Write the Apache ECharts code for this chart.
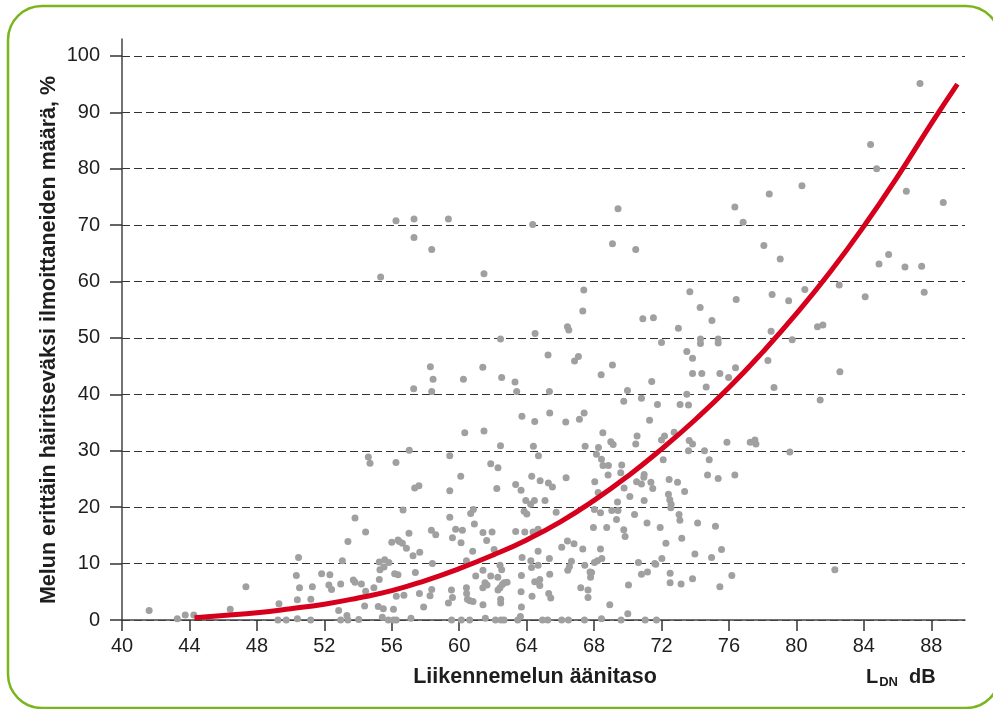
<!DOCTYPE html>
<html>
<head>
<meta charset="utf-8">
<script src="https://cdn.jsdelivr.net/npm/echarts@6/dist/echarts.min.js"></script>
<style>
  html, body { margin: 0; padding: 0; background: #ffffff; }
  #chart { width: 993px; height: 709px; }
</style>
</head>
<body>
<div id="chart"></div>
<script>
// Axis tick values
const levelTicks = [40, 44, 48, 52, 56, 60, 64, 68, 72, 76, 80, 84, 88];
const shareTicks = [0, 10, 20, 30, 40, 50, 60, 70, 80, 90, 100];

// Survey results: [L_DN dB, % highly annoyed]
const surveysHigh = [
  [56.25, 70.8], [57.32, 71.1], [57.32, 67.8], [58.37, 65.7], [59.36, 71.1], [64.36, 70.1],
  [69.42, 72.9], [69.09, 66.7], [70.47, 65.7], [76.35, 73.2], [76.84, 70.5], [78.39, 75.5],
  [80.33, 77.0], [78.07, 66.4], [84.4, 84.3], [84.76, 80.0], [86.52, 76.0], [87.33, 95.1],
  [88.71, 74.0], [85.47, 64.8], [55.34, 60.8]
];
const surveysMid = [
  [61.47, 61.4], [67.39, 58.5], [67.33, 54.8], [70.89, 53.4], [71.52, 53.6], [73.0, 51.7],
  [66.42, 52.0], [66.5, 51.4], [64.5, 50.8], [62.45, 49.8], [72.0, 49.2], [65.27, 47.0],
  [67.07, 46.7], [66.84, 45.9], [73.5, 47.6], [58.29, 44.9], [58.45, 42.7], [58.37, 40.5],
  [57.3, 41.0], [60.25, 42.7], [61.4, 44.8], [62.52, 43.0], [63.31, 42.2], [63.41, 40.5],
  [65.35, 40.5], [68.42, 43.5], [69.09, 45.2], [71.42, 42.3], [69.98, 40.7], [69.76, 38.8],
  [70.81, 39.3], [71.76, 38.2], [73.1, 38.2], [73.5, 40.0], [63.72, 36.1], [64.48, 35.2],
  [65.37, 36.7], [66.32, 35.1], [67.13, 35.6], [67.41, 36.7], [71.29, 35.4], [60.33, 33.2],
  [61.47, 33.5], [68.52, 33.2], [68.99, 31.6], [69.13, 31.1], [70.55, 32.6], [70.47, 31.2],
  [72.0, 31.9], [72.18, 32.6], [72.75, 33.3], [62.45, 30.9], [64.4, 30.8], [67.47, 30.8],
  [68.26, 30.6],
  [79.04, 64.0], [84.9, 63.1], [86.44, 62.6], [87.43, 62.7], [87.58, 58.1], [84.08, 57.3],
  [82.54, 59.4], [80.5, 58.6], [79.54, 56.6], [78.56, 57.7], [76.43, 56.8], [73.68, 58.2],
  [74.29, 55.4], [74.99, 53.1], [81.25, 52.0], [81.57, 52.3], [78.5, 51.2], [79.75, 49.7],
  [74.31, 49.8], [74.31, 49.0], [75.36, 49.8], [75.36, 49.1], [73.84, 46.4], [76.39, 44.7],
  [78.31, 46.0], [73.84, 43.7], [74.39, 43.7], [75.46, 43.7], [75.98, 43.0], [74.65, 41.3],
  [78.67, 41.2], [82.58, 44.0], [73.6, 38.1], [81.41, 39.0], [73.64, 31.8], [73.84, 31.2],
  [75.88, 31.5], [77.26, 31.5], [77.54, 31.9], [77.6, 31.2]
];
const surveysQuiet = [
  [41.61, 1.7], [43.28, 0.2], [43.75, 0.9], [44.26, 0.9], [46.42, 1.9], [47.35, 5.9],
  [49.31, 2.9], [49.25, 0], [49.74, 0], [50.4, 0.2], [50.34, 7.9], [50.47, 11.1],
  [50.53, 5.7], [50.4, 3.6], [51.2, 3.7], [51.19, 0], [51.29, 5.9], [51.84, 8.2],
  [52.33, 8.0], [52.27, 6.2], [52.43, 5.4], [52.97, 6.4], [52.85, 1.7], [53.34, 0.8],
  [52.97, 0], [53.4, 0], [54.04, 0.1], [53.07, 10.5], [53.4, 13.9], [53.82, 18.1],
  [54.45, 15.6], [53.72, 7.1], [53.82, 6.7], [54.2, 6.4], [54.39, 2.5], [54.45, 5.1],
  [54.94, 5.7], [54.61, 28.9], [54.71, 27.8], [56.25, 27.9], [55.26, 10.3], [55.58, 10.7],
  [55.83, 10.2], [55.3, 8.9], [55.54, 9.4], [55.26, 7.2], [55.2, 2.4], [55.5, 2.0],
  [55.44, 0.5], [55.8, 0], [56.1, 0], [56.1, 1.9], [56.17, 8.2], [56.37, 8.0],
  [56.0, 13.8], [56.37, 14.2], [56.27, 4.2]
];
const surveysBusy = [
  [57.04, 30.1], [59.44, 29.1], [64.7, 29.1], [61.87, 27.7], [62.3, 27.0], [60.09, 25.5],
  [68.14, 29.4], [68.44, 28.5], [68.53, 27.4], [68.85, 27.4], [68.83, 25.7], [69.64, 27.5],
  [69.58, 26.1], [70.97, 25.8], [70.95, 25.3], [70.52, 24.5], [70.81, 24.1], [70.12, 21.9],
  [69.78, 23.4], [71.37, 24.4], [71.48, 23.3], [70.97, 21.2], [72.1, 28.4], [72.45, 24.9],
  [72.95, 24.4], [73.37, 22.8], [72.41, 22.3], [72.49, 21.3], [72.57, 20.5], [72.55, 19.9],
  [73.04, 18.7], [73.09, 17.7], [73.2, 14.5], [73.16, 6.4], [72.51, 8.3], [72.51, 6.6],
  [72.02, 10.9], [71.6, 10.0], [72.26, 13.6], [71.92, 16.4], [71.14, 17.2], [70.4, 18.7],
  [69.76, 16.0], [69.84, 14.8], [69.39, 20.9], [69.42, 19.4], [69.33, 17.8], [69.05, 19.4],
  [68.75, 16.4], [68.38, 19.0], [68.04, 24.5], [68.24, 22.6], [68.02, 19.6], [67.96, 16.4],
  [68.38, 12.6], [68.46, 10.9], [68.02, 10.2], [68.2, 10.5], [67.33, 12.6], [66.81, 13.5],
  [66.42, 14.0], [66.08, 12.9], [66.66, 10.4], [66.54, 9.5], [66.44, 8.8], [67.45, 9.7],
  [67.76, 8.5], [67.85, 8.4], [67.79, 7.6], [67.21, 5.7], [67.64, 5.3], [67.64, 4.0],
  [68.93, 2.7], [70.0, 1.1], [70.04, 6.2], [70.63, 10.2], [70.81, 8.1], [71.17, 8.5],
  [71.66, 9.9], [56.27, 0], [57.14, 0.3], [59.55, 0], [60.13, 0], [60.62, 0],
  [61.55, 0.3], [62.15, 0], [62.48, 0], [62.66, 0], [63.47, 0], [63.63, 0.6],
  [64.94, 0], [65.25, 0], [66.08, 0], [66.48, 0], [67.43, 0], [68.44, 0.2],
  [69.6, 0], [71.03, 0], [71.7, 0], [63.69, 2.3], [61.41, 2.7], [62.46, 3.0],
  [62.46, 3.7], [60.82, 3.3], [59.36, 3.0], [59.6, 4.0], [57.89, 2.3], [58.27, 4.3],
  [58.37, 5.4], [57.64, 4.7], [56.72, 4.4], [60.44, 4.7], [60.49, 3.7], [60.64, 3.4],
  [60.43, 5.7], [59.54, 5.3], [61.4, 5.7], [61.53, 6.6], [61.65, 6.2], [62.3, 5.3],
  [62.42, 5.7], [62.56, 6.3], [62.66, 6.6], [62.84, 6.7], [63.67, 5.0], [64.32, 4.2],
  [64.48, 6.8], [64.78, 7.2], [64.78, 6.1], [65.31, 4.7], [65.43, 3.9], [63.69, 7.9],
  [61.87, 7.8], [62.29, 7.6], [60.98, 7.8], [61.41, 8.8], [60.43, 10.5], [60.8, 12.2],
  [62.07, 12.5], [62.42, 9.7], [62.52, 8.9], [63.73, 11.1], [64.25, 10.5], [64.29, 9.3],
  [64.68, 12.2], [64.68, 9.7], [65.35, 10.9], [65.37, 8.1], [58.41, 10.0], [57.4, 8.4],
  [57.26, 11.4], [57.66, 12.0], [56.45, 13.9], [56.63, 13.6], [56.87, 12.7], [57.02, 15.4],
  [58.35, 15.9], [58.61, 15.1], [59.44, 18.2], [59.79, 16.1], [60.19, 15.9], [59.6, 14.6],
  [60.11, 13.7], [60.9, 17.0], [60.68, 18.9], [60.84, 19.6], [61.41, 15.5], [61.95, 15.6],
  [61.63, 14.1], [56.67, 19.5], [59.44, 22.9], [57.36, 23.4], [57.61, 23.8], [62.23, 23.3],
  [63.35, 24.0], [63.67, 23.0], [64.3, 25.5], [64.8, 24.7], [65.29, 24.3], [65.53, 23.6],
  [66.34, 25.2], [63.95, 21.2], [64.46, 21.2], [64.24, 20.5], [65.09, 21.2], [63.85, 19.3],
  [64.01, 18.8], [63.35, 15.7], [63.89, 15.6], [64.38, 15.6], [64.68, 16.1], [65.75, 19.1],
  [73.6, 30.0], [74.55, 30.0], [74.83, 28.4], [79.61, 29.8], [74.73, 25.7], [75.36, 25.1],
  [76.35, 25.7], [74.14, 17.2], [75.2, 16.6], [73.98, 11.7], [74.97, 11.1], [75.56, 12.5],
  [73.84, 7.3], [75.46, 5.9], [76.17, 7.9], [82.28, 8.9]
];

// Exposure–response curve: L_DN dB and % highly annoyed
const curveLevel = [44.3, 46, 48, 50, 52, 54, 56, 58, 60, 62, 64, 66, 68, 70, 72, 74, 76, 78, 80, 82, 84, 86, 88, 89.55];
const curveShare = [0.4, 0.8, 1.3, 2.0, 2.8, 3.9, 5.2, 7.0, 9.1, 11.5, 14.2, 17.4, 21.2, 25.5, 30.3, 35.5, 41.2, 47.5, 54.3, 61.7, 69.8, 78.6, 88.0, 95.0];

const surveyPoints = surveysHigh.concat(surveysMid, surveysQuiet, surveysBusy);
const curvePoints = curveLevel.map((x, i) => [x, curveShare[i]]);

const FONT = '"Liberation Sans", Arial, Helvetica, sans-serif';
const INK = '#1e1e1e';

const chart = echarts.init(document.getElementById('chart'), null, { renderer: 'canvas' });

chart.setOption({
  animation: false,
  backgroundColor: '#ffffff',
  grid: { left: 122, right: 28, top: 39, bottom: 89, containLabel: false },
  xAxis: {
    type: 'value',
    min: 40,
    max: 90,
    interval: 4,
    axisLine: { show: true, onZero: false, lineStyle: { color: '#444444', width: 1.5 } },
    axisTick: { show: true, length: 11, customValues: levelTicks, lineStyle: { color: '#333333', width: 1.5 } },
    axisLabel: { customValues: levelTicks, margin: 16, color: INK, fontSize: 20, fontFamily: FONT },
    splitLine: { show: false }
  },
  yAxis: {
    type: 'value',
    min: 0,
    max: 103,
    interval: 10,
    axisLine: { show: true, lineStyle: { color: '#444444', width: 1.5 } },
    axisTick: { show: true, length: 12, customValues: shareTicks, lineStyle: { color: '#333333', width: 1.5 } },
    axisLabel: { customValues: shareTicks, margin: 22, color: INK, fontSize: 20, fontFamily: FONT },
    splitLine: { show: true, lineStyle: { color: '#333333', width: 1, type: [8, 4] } }
  },
  series: [
    {
      type: 'scatter',
      data: surveyPoints,
      symbol: 'circle',
      symbolSize: 7,
      itemStyle: { color: '#a0a0a0', opacity: 1 },
      z: 2
    },
    {
      type: 'line',
      data: curvePoints,
      smooth: 0.5,
      showSymbol: false,
      lineStyle: { color: '#d6001c', width: 5, cap: 'butt', join: 'round' },
      z: 3
    }
  ],
  graphic: [
    {
      type: 'rect',
      z: -10,
      shape: { x: 8, y: 6, width: 992, height: 702, r: 34 },
      style: { fill: 'none', stroke: '#7ab51d', lineWidth: 2.5 }
    },
    {
      type: 'text',
      x: 49,
      y: 340,
      rotation: Math.PI / 2,
      style: {
        text: 'Melun erittäin häiritseväksi ilmoittaneiden määrä, %',
        font: 'bold 21.5px ' + FONT,
        fill: INK,
        textAlign: 'center',
        textVerticalAlign: 'middle'
      }
    },
    {
      type: 'text',
      x: 535,
      y: 677,
      style: {
        text: 'Liikennemelun äänitaso',
        font: 'bold 21.5px ' + FONT,
        fill: INK,
        textAlign: 'center',
        textVerticalAlign: 'middle'
      }
    },
    {
      type: 'text',
      x: 866,
      y: 677,
      style: {
        text: '{l|L}{s|DN}{l|  dB}',
        textAlign: 'left',
        textVerticalAlign: 'middle',
        rich: {
          l: { font: 'bold 20px ' + FONT, fill: INK, color: INK },
          s: { font: 'bold 13px ' + FONT, fill: INK, color: INK, padding: [10, 0, 0, 1] }
        }
      }
    }
  ]
});
</script>
</body>
</html>
